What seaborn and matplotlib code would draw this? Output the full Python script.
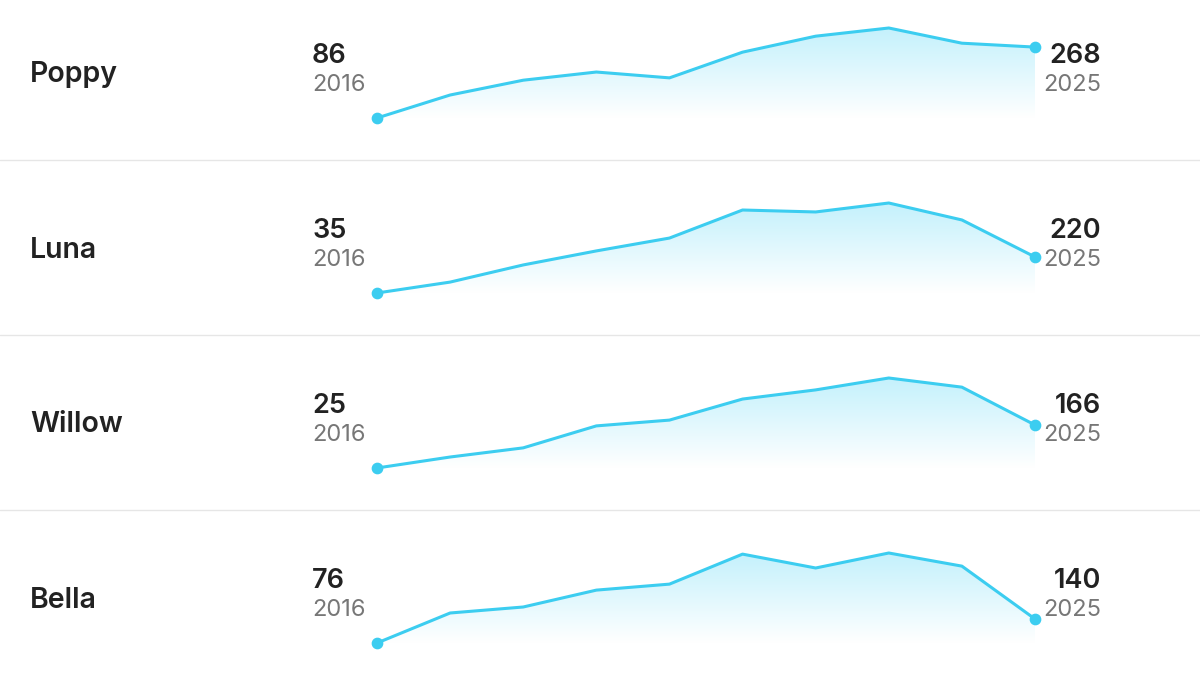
import numpy as np
import pandas as pd
import matplotlib
matplotlib.use("Agg")
import matplotlib.pyplot as plt
from matplotlib.colors import LinearSegmentedColormap
import seaborn as sns

sns.set_theme(style="white")
plt.rcParams["font.family"] = ["Inter", "DejaVu Sans"]

years = list(range(2016, 2026))
names = ["Poppy", "Luna", "Willow", "Bella"]
poppy = [86, 145, 183, 204, 189, 255, 296, 317, 278, 268]
luna = [35, 91, 179, 251, 317, 461, 451, 497, 410, 220]
willow = [25, 61, 91, 163, 182, 251, 281, 320, 290, 166]
bella = [76, 156, 172, 217, 233, 313, 276, 316, 281, 140]
series = [poppy, luna, willow, bella]

LINE = "#3ccdf0"
W, H = 1200, 675
ROW = 175
cmap = LinearSegmentedColormap.from_list("fade", ["#ffffff", "#c4f1fc"])

fig = plt.figure(figsize=(12, 6.75), dpi=100)
fig.patch.set_facecolor("white")

for i, (name, vals) in enumerate(zip(names, series)):
    off = i * ROW
    bottom_px = 118 + off
    ax = fig.add_axes([377 / W, (H - bottom_px) / H, 658 / W, 90 / H])
    df = pd.DataFrame({"year": years, "value": vals})
    lo, hi = min(vals), max(vals)
    ax.set_xlim(years[0], years[-1])
    ax.set_ylim(lo, hi)

    poly = ax.fill_between(df["year"], df["value"], lo, facecolor="none", edgecolor="none")
    grad = np.linspace(0, 1, 256).reshape(-1, 1)
    im = ax.imshow(grad, extent=[years[0], years[-1], lo, hi], origin="lower",
                   aspect="auto", cmap=cmap, zorder=1)
    im.set_clip_path(poly.get_paths()[0], transform=ax.transData)

    sns.lineplot(data=df, x="year", y="value", ax=ax, color=LINE, lw=2.2, zorder=3)
    for ln in ax.get_lines():
        ln.set_clip_on(False)
    ax.scatter([years[0], years[-1]], [vals[0], vals[-1]], s=55, color=LINE,
               zorder=4, clip_on=False)
    ax.set_axis_off()

    fig.text(30 / W, 1 - (75 + off) / H, name, fontsize=20.5, fontweight="semibold",
             color="#222222", va="center", ha="left")
    fig.text(312 / W, 1 - (56 + off) / H, str(vals[0]), fontsize=19.5, fontweight="semibold",
             color="#222222", va="center", ha="left")
    fig.text(312 / W, 1 - (85 + off) / H, str(years[0]), fontsize=17,
             color="#777777", va="center", ha="left")
    fig.text(1101 / W, 1 - (56 + off) / H, str(vals[-1]), fontsize=19.5, fontweight="semibold",
             color="#222222", va="center", ha="right")
    fig.text(1101 / W, 1 - (85 + off) / H, str(years[-1]), fontsize=17,
             color="#777777", va="center", ha="right")

    if i < len(names) - 1:
        y = 1 - (160 + off) / H
        fig.add_artist(plt.Line2D([0, 1], [y, y], color="#e6e6e6", lw=1))

fig.savefig("out.png", dpi=100)
